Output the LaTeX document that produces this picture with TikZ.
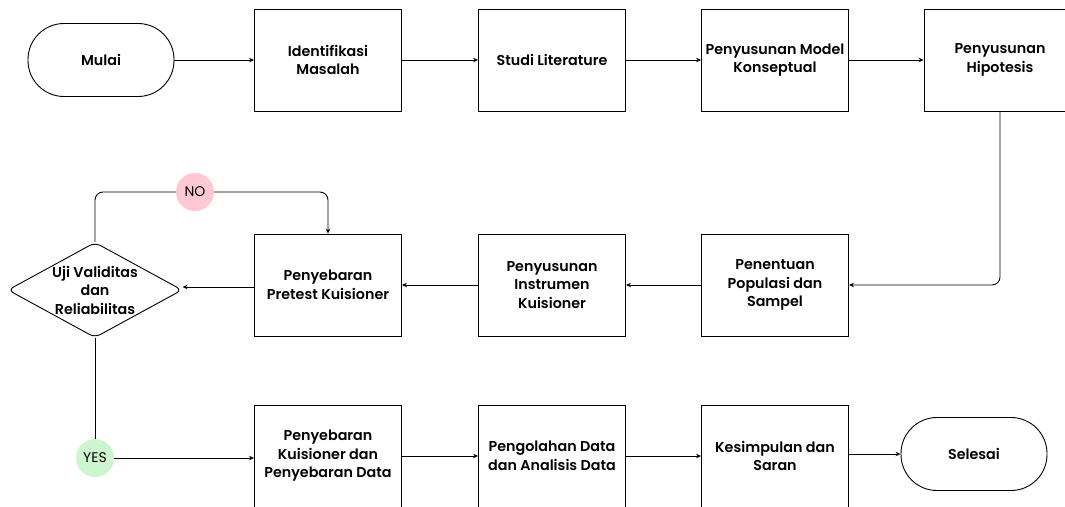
\documentclass[tikz,border=0pt]{standalone}
\usepackage{fontspec}
\IfFontExistsTF{Poppins SemiBold}{\setmainfont{Poppins}[BoldFont={Poppins SemiBold}]}{\setmainfont{Poppins}}
\usetikzlibrary{shapes.geometric,arrows.meta}
\begin{document}
\begin{tikzpicture}[x=1pt,y=-1pt,
  every node/.style={font=\fontsize{14.3}{18.5}\selectfont\bfseries, align=center},
  box/.style={draw, line width=0.9pt, minimum width=147pt, minimum height=102pt, inner sep=2pt},
  term/.style={draw, line width=0.9pt, rounded corners=36pt, minimum width=146pt, minimum height=73pt},
  dec/.style={draw, line width=0.9pt, diamond, aspect=1.83, minimum width=173pt, minimum height=95pt, inner sep=0pt, rounded corners=6pt},
  flow/.style={line width=0.9pt, -{Stealth[length=5pt,width=4.5pt]}},
  lbl/.style={circle, minimum size=38pt, inner sep=0pt, font=\fontsize{14}{17}\selectfont}
]
\useasboundingbox (0,0) rectangle (1065,506);
\node[term] (mulai) at (101,60) {Mulai};
\node[box] (idm) at (328,60) {Identifikasi\\Masalah};
\node[box] (studi) at (552,60) {Studi Literature};
\node[box] (model) at (775,60) {Penyusunan Model\\Konseptual};
\node[box, minimum width=152pt] (hip) at (1000,60) {Penyusunan\\Hipotesis};
\node[box] (pop) at (775,285) {Penentuan\\Populasi dan\\Sampel};
\node[box] (instr) at (552,285) {Penyusunan\\Instrumen\\Kuisioner};
\node[box] (pre) at (328,285) {Penyebaran\\Pretest Kuisioner};
\node[dec] (uji) at (95,290) {Uji Validitas\\dan\\Reliabilitas};
\node[box] (kuis) at (328,456) {Penyebaran\\Kuisioner dan\\Penyebaran Data};
\node[box] (olah) at (552,456) {Pengolahan Data\\dan Analisis Data};
\node[box] (kes) at (775,456) {Kesimpulan dan\\Saran};
\node[term] (sel) at (974,454) {Selesai};
\node[lbl, fill={rgb,255:red,255;green,200;blue,210}] (no) at (195,192) {NO};
\node[lbl, fill={rgb,255:red,204;green,245;blue,208}] (yes) at (95,458) {YES};
\draw[flow] (mulai) -- (idm);
\draw[flow] (idm) -- (studi);
\draw[flow] (studi) -- (model);
\draw[flow] (model) -- (hip);
\draw[flow, rounded corners=8pt] (hip.south) |- (pop.east);
\draw[flow] (pop) -- (instr);
\draw[flow] (instr) -- (pre);
\draw[flow] (pre.west |- 0,287) -- (uji.east |- 0,287);
\draw[line width=0.9pt, rounded corners=8pt] (uji.north) |- (no.west);
\draw[flow, rounded corners=8pt] (no.east) -| (pre.north);
\draw[line width=0.9pt] (uji.south) -- (yes.north);
\draw[flow] (yes.east) -- (kuis.west |- yes.east);
\draw[flow] (kuis) -- (olah);
\draw[flow] (olah) -- (kes);
\draw[flow] (kes.east |- sel.west) -- (sel.west);
\end{tikzpicture}
\end{document}
